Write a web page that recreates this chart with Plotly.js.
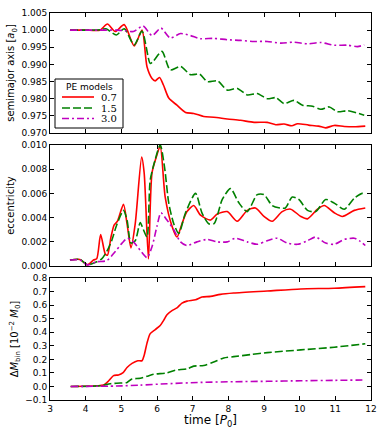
<!DOCTYPE html>
<html>
<head>
<meta charset="utf-8">
<script src="https://cdn.plot.ly/plotly-3.0.1.min.js"></script>
<style>
  html, body { margin: 0; padding: 0; background: #fff; }
  #chart { width: 382px; height: 429px; }
</style>
</head>
<body>
<div id="chart"></div>
<script>
// Legend labels (PE models)
const modelNames = ['0.7', '1.5', '3.0'];

// Semimajor axis [a0]
const tSemiRed = [3.56, 4.0, 4.4, 4.61, 4.83, 5.08, 5.36, 5.58, 5.72, 5.86, 5.95, 6.07, 6.18, 6.33, 6.56, 6.8, 7.03, 7.31, 7.59, 7.97, 8.34, 8.72, 9.09, 9.33, 9.56, 9.78, 9.94, 10.25, 10.53, 10.73, 10.97, 11.25, 11.53, 11.84];
const semiRed = [1.000, 1.000, 1.000, 1.0018, 0.9996, 1.0016, 0.9954, 1.000, 0.9893, 0.9859, 0.9852, 0.9862, 0.9840, 0.9802, 0.9781, 0.9760, 0.9757, 0.9748, 0.9746, 0.9741, 0.9737, 0.9731, 0.9731, 0.9724, 0.9726, 0.9721, 0.9727, 0.9723, 0.9720, 0.9715, 0.9722, 0.9719, 0.9718, 0.9720];
const tSemiGreen = [3.56, 4.0, 4.4, 4.57, 4.86, 5.08, 5.36, 5.58, 5.81, 5.9, 6.14, 6.37, 6.66, 6.94, 7.19, 7.41, 7.7, 7.97, 8.25, 8.53, 8.81, 9.09, 9.33, 9.56, 9.84, 10.08, 10.36, 10.59, 10.83, 11.06, 11.34, 11.58, 11.81];
const semiGreen = [1.000, 1.000, 1.0001, 1.0004, 0.9986, 1.0004, 0.9957, 0.9997, 0.9903, 0.9910, 0.9938, 0.9884, 0.9894, 0.9870, 0.9872, 0.9850, 0.9852, 0.9825, 0.9830, 0.9811, 0.9815, 0.9800, 0.9803, 0.9786, 0.9795, 0.9781, 0.9778, 0.9769, 0.9776, 0.9762, 0.9765, 0.9759, 0.9752];
const tSemiMag = [3.56, 4.4, 4.9, 5.1, 5.34, 5.61, 5.86, 6.11, 6.37, 6.66, 6.94, 7.22, 7.59, 7.97, 8.34, 8.72, 9.09, 9.47, 9.84, 10.22, 10.59, 10.97, 11.34, 11.62, 11.81];
const semiMag = [1.000, 1.000, 1.000, 0.9998, 0.9996, 1.0012, 0.9984, 1.0006, 0.9977, 0.9990, 0.9984, 0.9975, 0.9976, 0.9972, 0.9970, 0.9967, 0.9967, 0.9962, 0.9965, 0.9960, 0.9964, 0.9956, 0.9956, 0.9952, 0.9957];

// Eccentricity
const tEccRed = [3.56, 3.84, 4.05, 4.22, 4.31, 4.42, 4.55, 4.61, 4.71, 4.8, 4.89, 5.06, 5.16, 5.27, 5.39, 5.57, 5.64, 5.76, 5.86, 6.0, 6.09, 6.23, 6.42, 6.56, 6.7, 6.84, 7.03, 7.22, 7.5, 7.69, 7.97, 8.25, 8.53, 8.76, 9.0, 9.23, 9.51, 9.75, 10.03, 10.22, 10.5, 10.69, 10.97, 11.2, 11.53, 11.84];
const eccRed = [0.0005, 0.00055, 0.0001, 0.0005, 0.0006, 0.0026, 0.0010, 0.0009, 0.0024, 0.0034, 0.0037, 0.0051, 0.0035, 0.0015, 0.0035, 0.0090, 0.0077, 0.0006, 0.0077, 0.0092, 0.0099, 0.0057, 0.0033, 0.0024, 0.0035, 0.0045, 0.0050, 0.0042, 0.0038, 0.0043, 0.0045, 0.0037, 0.0046, 0.0048, 0.0041, 0.0037, 0.0045, 0.0047, 0.0041, 0.0039, 0.0047, 0.0050, 0.0044, 0.0041, 0.0046, 0.0048];
const tEccGreen = [3.56, 3.84, 4.05, 4.31, 4.45, 4.59, 4.73, 4.87, 5.06, 5.16, 5.27, 5.39, 5.53, 5.62, 5.72, 5.81, 5.95, 6.09, 6.21, 6.33, 6.47, 6.61, 6.8, 7.08, 7.26, 7.45, 7.6, 7.83, 8.06, 8.3, 8.53, 8.81, 9.0, 9.23, 9.45, 9.6, 9.79, 9.98, 10.22, 10.45, 10.73, 10.97, 11.25, 11.53, 11.76, 11.84];
const eccGreen = [0.0005, 0.00055, 0.0001, 0.00036, 0.0006, 0.0012, 0.0021, 0.0034, 0.0046, 0.0038, 0.0019, 0.0021, 0.0036, 0.0030, 0.0024, 0.0071, 0.0088, 0.0100, 0.0082, 0.0052, 0.0035, 0.0027, 0.0044, 0.0060, 0.0044, 0.0035, 0.0035, 0.0055, 0.0064, 0.0052, 0.0045, 0.0059, 0.0059, 0.0050, 0.0048, 0.0048, 0.0057, 0.0055, 0.0046, 0.0045, 0.0055, 0.0052, 0.0047, 0.0056, 0.0060, 0.0059];
const tEccMag = [3.56, 3.84, 4.05, 4.31, 4.59, 4.83, 5.02, 5.17, 5.34, 5.53, 5.72, 5.86, 6.0, 6.11, 6.28, 6.47, 6.66, 6.84, 7.12, 7.41, 7.69, 7.97, 8.2, 8.53, 8.81, 9.09, 9.37, 9.65, 9.94, 10.22, 10.45, 10.73, 10.97, 11.25, 11.53, 11.67, 11.84];
const eccMag = [0.0005, 0.0005, 0.0001, 0.00036, 0.00045, 0.0012, 0.0019, 0.0023, 0.0020, 0.0013, 0.0007, 0.0016, 0.0033, 0.0044, 0.0038, 0.0030, 0.0020, 0.0017, 0.0020, 0.0022, 0.0020, 0.0020, 0.0023, 0.0020, 0.0018, 0.0021, 0.0023, 0.0019, 0.0018, 0.0021, 0.0024, 0.0019, 0.0018, 0.0022, 0.0023, 0.0021, 0.0017];

// Delta M_bin [1e-2 M0]
const tMassRed = [3.58, 4.31, 4.5, 4.64, 4.78, 4.92, 5.04, 5.16, 5.3, 5.46, 5.58, 5.64, 5.72, 5.81, 5.95, 6.09, 6.19, 6.28, 6.42, 6.56, 6.7, 6.84, 7.08, 7.26, 7.5, 7.78, 8.15, 9.09, 10.03, 10.97, 11.84];
const massRed = [0.0, 0.005, 0.01, 0.04, 0.08, 0.085, 0.10, 0.14, 0.17, 0.19, 0.19, 0.23, 0.32, 0.39, 0.42, 0.45, 0.49, 0.53, 0.56, 0.58, 0.615, 0.63, 0.64, 0.66, 0.665, 0.68, 0.69, 0.705, 0.72, 0.725, 0.737];
const tMassGreen = [3.58, 4.41, 4.69, 4.97, 5.16, 5.3, 5.53, 5.72, 5.9, 6.28, 6.51, 6.84, 7.03, 7.31, 7.59, 7.87, 8.15, 8.62, 9.09, 10.03, 10.97, 11.84];
const massGreen = [0.0, 0.005, 0.02, 0.025, 0.03, 0.055, 0.06, 0.075, 0.09, 0.10, 0.12, 0.13, 0.15, 0.155, 0.18, 0.21, 0.22, 0.235, 0.25, 0.27, 0.29, 0.315];
const tMassMag = [3.58, 4.87, 5.53, 6.28, 7.22, 8.15, 9.09, 10.03, 10.97, 11.84];
const massMag = [0.0, 0.003, 0.01, 0.02, 0.03, 0.035, 0.038, 0.042, 0.045, 0.048];

const styles = [
    {color: '#ff0000', width: 1.6, dash: 'solid'},
    {color: '#008000', width: 1.6, dash: '8px,3px'},
    {color: '#bf00bf', width: 1.6, dash: '7px,3px,2px,3px'}
];

function mkTrace(t, y, i, xa, ya) {
    return {
        x: t, y: y, name: modelNames[i],
        type: 'scatter', mode: 'lines',
        line: Object.assign({shape: 'spline', smoothing: 0.7}, styles[i]),
        xaxis: xa, yaxis: ya,
        showlegend: false,
        hoverinfo: 'skip'
    };
}

const data = [
    mkTrace(tSemiRed, semiRed, 0, 'x', 'y'),
    mkTrace(tSemiGreen, semiGreen, 1, 'x', 'y'),
    mkTrace(tSemiMag, semiMag, 2, 'x', 'y'),
    mkTrace(tEccRed, eccRed, 0, 'x2', 'y2'),
    mkTrace(tEccGreen, eccGreen, 1, 'x2', 'y2'),
    mkTrace(tEccMag, eccMag, 2, 'x2', 'y2'),
    mkTrace(tMassRed, massRed, 0, 'x3', 'y3'),
    mkTrace(tMassGreen, massGreen, 1, 'x3', 'y3'),
    mkTrace(tMassMag, massMag, 2, 'x3', 'y3')
];

const tickFont = {family: 'DejaVu Sans', size: 9, color: '#000'};
const axisBase = {
    showline: true, linecolor: '#000', linewidth: 1, mirror: 'ticks',
    ticks: 'inside', ticklen: 4, tickcolor: '#000',
    showgrid: false, zeroline: false, tickfont: tickFont
};
function xAxis(showLabels, anchor) {
    return Object.assign({}, axisBase, {
        range: [3, 12], dtick: 1, tick0: 3, anchor: anchor,
        showticklabels: showLabels
    });
}
function yAxis(domain, range, dtick, fmt, title) {
    return Object.assign({}, axisBase, {
        domain: domain, range: range, dtick: dtick, tickformat: fmt,
        title: {text: title, font: {family: 'DejaVu Sans', size: 10, color: '#000'}, standoff: 4}
    });
}

// Hand-drawn legend box (the native one is too tall for this panel)
const legendX = function (px) { return (px - 50) / 321; };
const legendY = function (py) { return (400 - py) / 387; };
const legendRows = [97, 108, 118.5];
const shapes = [{
    type: 'rect', xref: 'paper', yref: 'paper',
    x0: legendX(55), x1: legendX(123), y0: legendY(128), y1: legendY(79),
    fillcolor: '#fff', line: {color: '#000', width: 1}, layer: 'above'
}];
const annotations = [{
    xref: 'paper', yref: 'paper', x: legendX(89), y: legendY(87),
    text: 'PE models', showarrow: false, xanchor: 'center', yanchor: 'middle',
    font: {family: 'DejaVu Sans', size: 9, color: '#000'}
}];
modelNames.forEach(function (name, i) {
    shapes.push({
        type: 'line', xref: 'paper', yref: 'paper',
        x0: legendX(62), x1: legendX(94), y0: legendY(legendRows[i]), y1: legendY(legendRows[i]),
        line: styles[i], layer: 'above'
    });
    annotations.push({
        xref: 'paper', yref: 'paper', x: legendX(119), y: legendY(legendRows[i]),
        text: name, showarrow: false, xanchor: 'right', yanchor: 'middle',
        font: {family: 'DejaVu Serif', size: 10, color: '#000'}
    });
});

const layout = {
    width: 382, height: 429,
    margin: {l: 50, r: 11, t: 13, b: 29},
    paper_bgcolor: '#fff', plot_bgcolor: '#fff',
    font: {family: 'DejaVu Sans', color: '#000'},
    xaxis: xAxis(false, 'y'),
    xaxis2: xAxis(false, 'y2'),
    xaxis3: Object.assign(xAxis(true, 'y3'), {
        title: {text: 'time [<i>P</i><sub>0</sub>]', font: {family: 'DejaVu Sans', size: 12, color: '#000'}, standoff: 2}
    }),
    yaxis: yAxis([0.690, 1.0], [0.970, 1.005], 0.005, '.3f', 'semimajor axis [<i>a</i><sub>0</sub>]'),
    yaxis2: yAxis([0.346, 0.659], [0, 0.010], 0.002, '.3f', 'eccentricity'),
    yaxis3: yAxis([0, 0.315], [-0.1, 0.8], 0.1, '.1f', 'Δ<i>M</i><sub>bin</sub> [10<sup>−2</sup> <i>M</i><sub>0</sub>]'),
    shapes: shapes,
    annotations: annotations,
    showlegend: false
};

Plotly.newPlot('chart', data, layout, {displayModeBar: false, staticPlot: true});
</script>
</body>
</html>
